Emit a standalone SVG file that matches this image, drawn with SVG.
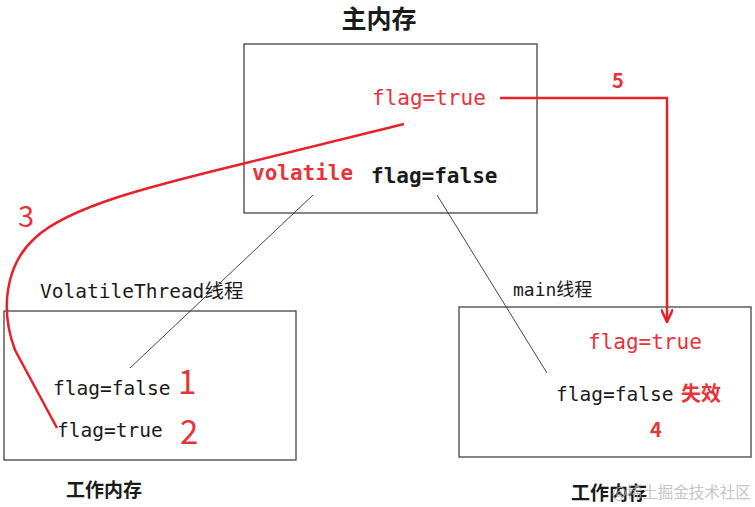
<svg xmlns="http://www.w3.org/2000/svg" width="755" height="507" viewBox="0 0 755 507">
<style>
.box{fill:#fff;stroke:#444;stroke-width:1.3}
.mono{font-family:"DejaVu Sans Mono","Liberation Mono",monospace}
.cjk{font-family:"Noto Sans CJK SC","DejaVu Sans",sans-serif}
.red{fill:#e8333b}
.blk{fill:#1a1a1a}
.thin{stroke:#333;stroke-width:0.9;fill:none}
.rl{stroke:#e8202a;stroke-width:2.5;fill:none}
</style>
<defs>
<marker id="arr" viewBox="0 0 14 12" refX="13" refY="6" markerWidth="14" markerHeight="12" markerUnits="userSpaceOnUse" orient="auto">
<path d="M0,0 L13,6 L0,12" fill="none" stroke="#e8202a" stroke-width="2.5"/>
</marker>
</defs>
<rect width="755" height="507" fill="#fff"/>
<g id="main-memory">
<text x="379" y="28" text-anchor="middle" class="cjk blk" font-size="25" font-weight="bold">主内存</text>
<rect class="box" x="244" y="44" width="293" height="169"/>
<text x="372" y="105" class="mono red" font-size="21">flag=true</text>
<text x="252" y="180" class="mono red" font-size="21" font-weight="bold">volatile</text>
<text x="371" y="183" class="mono blk" font-size="21" font-weight="bold">flag=false</text>
</g>
<g id="volatile-thread">
<text x="40" y="298" class="mono blk" font-size="19.5">VolatileThread<tspan class="cjk">线程</tspan></text>
<rect class="box" x="4" y="311" width="292" height="149"/>
<text x="53" y="395" class="mono blk" font-size="19.5">flag=false</text>
<text x="178" y="394" class="cjk red" font-size="33">1</text>
<text x="57" y="437" class="mono blk" font-size="19.5">flag=true</text>
<text x="180" y="444" class="cjk red" font-size="33">2</text>
<text x="66" y="497" class="cjk blk" font-size="19" font-weight="bold">工作内存</text>
</g>
<g id="main-thread">
<text x="513" y="296" class="mono blk" font-size="18">main<tspan class="cjk">线程</tspan></text>
<rect class="box" x="459" y="307" width="292" height="150"/>
<text x="588" y="349" class="mono red" font-size="21">flag=true</text>
<text x="556" y="401" class="mono blk" font-size="19.5">flag=false</text>
<text x="681" y="401" class="cjk red" font-size="20" font-weight="bold">失效</text>
<text x="650" y="437" class="cjk red" font-size="20" font-weight="bold">4</text>
<text x="571" y="500" class="cjk blk" font-size="19" font-weight="bold">工作内存</text>
</g>
<g id="connectors">
<line class="thin" x1="313" y1="195" x2="130" y2="368"/>
<line class="thin" x1="437" y1="195" x2="547" y2="373"/>
<path class="rl" d="M404,124 L250,162 C160,184 70,205 35,238 C5,265 0,310 15,350 L57,428"/>
<text x="18" y="227" class="cjk red" font-size="29">3</text>
<path class="rl" d="M500,98 L667,98 L667,322" marker-end="url(#arr)"/>
<text x="612" y="88" class="cjk red" font-size="20" font-weight="bold">5</text>
</g>
<text x="612" y="498" class="cjk" fill="#b8b8b8" font-size="15.5" opacity="0.8">@稀土掘金技术社区</text>
</svg>
